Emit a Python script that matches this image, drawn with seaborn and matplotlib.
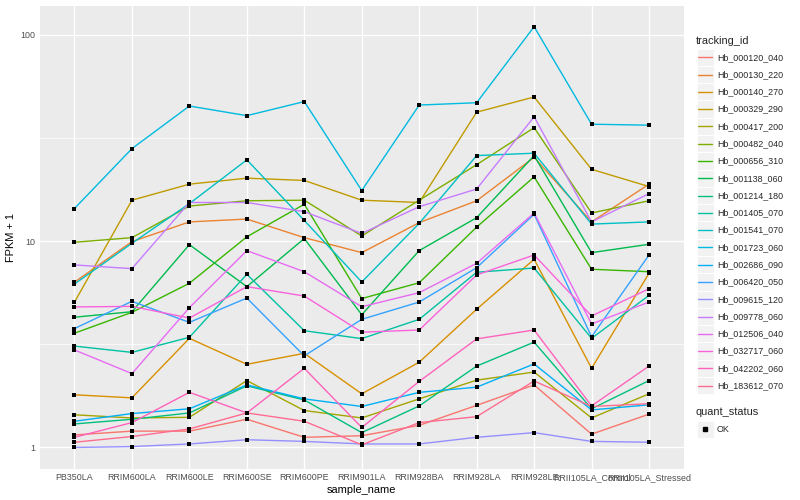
import numpy as np
import pandas as pd
import matplotlib
matplotlib.use("Agg")
import matplotlib.pyplot as plt
import seaborn as sns
from matplotlib.lines import Line2D
from matplotlib.patches import Rectangle
from matplotlib.ticker import FixedLocator, NullFormatter

samples = ["PB350LA", "RRIM600LA", "RRIM600LE", "RRIM600SE", "RRIM600PE",
           "RRIM901LA", "RRIM928BA", "RRIM928LA", "RRIM928LE",
           "RRII105LA_Control", "RRII105LA_Stressed"]

tracking_ids = ["Hb_000120_040", "Hb_000130_220", "Hb_000140_270", "Hb_000329_290",
                "Hb_000417_200", "Hb_000482_040", "Hb_000656_310", "Hb_001138_060",
                "Hb_001214_180", "Hb_001405_070", "Hb_001541_070", "Hb_001723_060",
                "Hb_002686_090", "Hb_006420_050", "Hb_009615_120", "Hb_009778_060",
                "Hb_012506_040", "Hb_032717_060", "Hb_042202_060", "Hb_183612_070"]

hb_000120_040 = [1.15, 1.20, 1.20, 1.37, 1.12, 1.14, 1.28, 1.60, 2.01, 1.16, 1.45]
hb_000130_220 = [6.33, 9.95, 12.4, 12.8, 10.4, 8.8, 12.3, 15.7, 25.5, 12.4, 18.9]
hb_000140_270 = [1.80, 1.74, 3.38, 2.53, 2.86, 1.82, 2.59, 4.68, 8.17, 2.42, 6.99]
hb_000329_290 = [5.06, 15.8, 18.9, 20.2, 19.7, 15.8, 15.4, 42.2, 50.0, 22.3, 18.4]
hb_000417_200 = [1.44, 1.39, 1.40, 2.11, 1.51, 1.39, 1.72, 2.12, 2.32, 1.39, 1.82]
hb_000482_040 = [9.88, 10.4, 14.8, 15.7, 15.8, 10.6, 15.8, 23.5, 35.5, 13.7, 15.7]
hb_000656_310 = [3.58, 4.52, 6.25, 10.5, 15.1, 5.27, 6.29, 11.7, 20.5, 7.31, 7.11]
hb_001138_060 = [4.28, 4.55, 9.62, 6.02, 10.3, 4.40, 9.0, 13.0, 26.0, 8.8, 9.66]
hb_001214_180 = [1.30, 1.37, 1.47, 1.99, 1.70, 1.18, 1.59, 2.48, 3.24, 1.54, 2.11]
hb_001405_070 = [3.10, 2.89, 3.42, 6.91, 3.68, 3.37, 4.18, 7.07, 7.41, 3.38, 5.46]
hb_001541_070 = [6.20, 9.77, 15.2, 24.8, 12.6, 6.34, 12.2, 26.0, 26.7, 12.1, 12.4]
hb_001723_060 = [14.4, 28.1, 45.2, 40.6, 47.5, 17.6, 45.7, 46.9, 109.6, 36.9, 36.5]
hb_002686_090 = [1.34, 1.46, 1.54, 2.01, 1.72, 1.58, 1.85, 1.96, 2.54, 1.52, 1.61]
hb_006420_050 = [3.77, 5.11, 4.04, 5.30, 2.78, 4.18, 5.07, 7.44, 13.5, 3.44, 8.57]
hb_009615_120 = [1.00, 1.01, 1.04, 1.09, 1.07, 1.04, 1.04, 1.12, 1.18, 1.07, 1.06]
hb_009778_060 = [7.67, 7.36, 15.4, 15.4, 13.9, 10.9, 14.7, 17.9, 40.1, 12.4, 17.0]
hb_012506_040 = [2.97, 2.28, 4.76, 9.0, 7.11, 4.81, 5.63, 7.81, 13.7, 3.97, 5.07]
hb_032717_060 = [4.80, 4.83, 4.24, 6.02, 5.42, 3.62, 3.71, 6.86, 8.57, 4.34, 5.88]
hb_042202_060 = [1.12, 1.32, 1.85, 1.47, 2.42, 1.25, 2.09, 3.36, 3.71, 1.59, 2.48]
hb_183612_070 = [1.06, 1.13, 1.23, 1.47, 1.34, 1.03, 1.32, 1.41, 2.10, 1.58, 1.63]

series_values = [hb_000120_040, hb_000130_220, hb_000140_270, hb_000329_290,
                 hb_000417_200, hb_000482_040, hb_000656_310, hb_001138_060,
                 hb_001214_180, hb_001405_070, hb_001541_070, hb_001723_060,
                 hb_002686_090, hb_006420_050, hb_009615_120, hb_009778_060,
                 hb_012506_040, hb_032717_060, hb_042202_060, hb_183612_070]

quant_status = ["OK"]

colors = ["#F8766D", "#EA8331", "#D89000", "#C09B00", "#A3A500", "#7CAE00",
          "#39B600", "#00BB4E", "#00BF7D", "#00C1A3", "#00BFC4", "#00BAE0",
          "#00B0F6", "#35A2FF", "#9590FF", "#C77CFF", "#E76BF3", "#FA62DB",
          "#FF62BC", "#FF6C91"]

rows = []
for tid, vals in zip(tracking_ids, series_values):
    for s, v in zip(samples, vals):
        rows.append({"tracking_id": tid, "sample_name": s, "fpkm1": v,
                     "quant_status": quant_status[0]})
df = pd.DataFrame(rows)

sns.set_theme(style="white")
plt.rcParams["font.family"] = ["Liberation Sans", "DejaVu Sans"]

W, H = 800, 500
fig = plt.figure(figsize=(8, 5), dpi=100)
ax = fig.add_axes([40 / W, (H - 468.5) / H, (683.5 - 40) / W, (468.5 - 5.6) / H])
ax.set_facecolor("#EBEBEB")
ax.set_yscale("log")

sns.lineplot(data=df, x="sample_name", y="fpkm1", hue="tracking_id",
             hue_order=tracking_ids, palette=dict(zip(tracking_ids, colors)),
             estimator=None, sort=False, linewidth=1.0, legend=False, ax=ax,
             zorder=2)
sns.scatterplot(data=df, x="sample_name", y="fpkm1", color="black", marker="s",
                s=9, linewidth=0, legend=False, ax=ax, zorder=3)

ax.set_xlim(-0.6, len(samples) - 0.4)
ax.set_ylim(10 ** -0.102, 10 ** 2.142)
ax.yaxis.set_major_locator(FixedLocator([1, 10, 100]))
ax.set_yticklabels(["1", "10", "100"])
ax.yaxis.set_minor_locator(FixedLocator([10 ** 0.5, 10 ** 1.5]))
ax.yaxis.set_minor_formatter(NullFormatter())
ax.set_xticks(range(len(samples)))
ax.set_xticklabels(samples)

ax.set_axisbelow(True)
ax.grid(which="major", color="white", linewidth=1.0)
ax.grid(which="minor", axis="y", color="white", linewidth=0.5)
for sp in ax.spines.values():
    sp.set_visible(False)
ax.tick_params(which="major", length=2.0, width=0.7, color="#333333",
               labelsize=6.4, labelcolor="#4D4D4D", pad=1.6)
ax.tick_params(which="minor", length=0)
ax.set_xlabel("sample_name", fontsize=7.9, color="black", labelpad=2.0)
ax.set_ylabel("FPKM + 1", fontsize=7.9, color="black", labelpad=3.0)


def fx(x):
    return x / W


def fy(y):
    return 1 - y / H


# legend: tracking_id
key = 17.28
fig.text(fx(696), fy(40.7), "tracking_id", fontsize=7.9, va="center", ha="left")
for i, (tid, col) in enumerate(zip(tracking_ids, colors)):
    yc = 57.3 + i * key
    fig.add_artist(Rectangle((fx(696.5), fy(yc + key / 2)), key / W, key / H,
                             transform=fig.transFigure, facecolor="#F2F2F2",
                             edgecolor="white", linewidth=0.7))
    fig.add_artist(Line2D([fx(698.2), fx(712.1)], [fy(yc), fy(yc)],
                          transform=fig.transFigure, color=col, linewidth=1.0))
    fig.text(fx(717), fy(yc), tid, fontsize=6.4, va="center", ha="left")

# legend: quant_status
fig.text(fx(696), fy(411.7), "quant_status", fontsize=7.9, va="center", ha="left")
yc = 429.3
fig.add_artist(Rectangle((fx(696.5), fy(yc + key / 2)), key / W, key / H,
                         transform=fig.transFigure, facecolor="#F2F2F2",
                         edgecolor="white", linewidth=0.7))
fig.add_artist(Line2D([fx(705.1)], [fy(yc)], transform=fig.transFigure,
                      marker="s", markersize=2.9, color="black", linestyle="none"))
fig.text(fx(717), fy(yc), quant_status[0], fontsize=6.4, va="center", ha="left")

fig.savefig("out.png", dpi=100)
